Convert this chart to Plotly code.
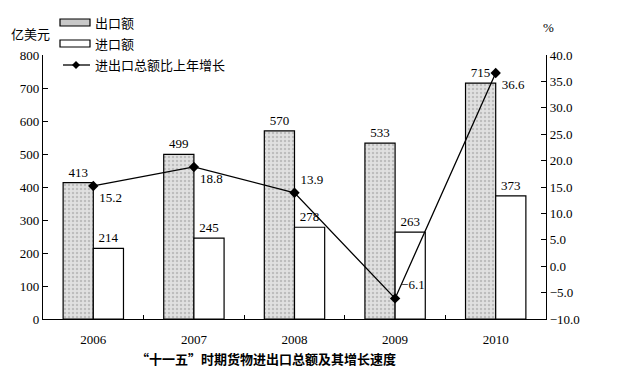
import plotly.graph_objects as go

years = ["2006", "2007", "2008", "2009", "2010"]
exports = [413, 499, 570, 533, 715]
imports = [214, 245, 278, 263, 373]
growth = [15.2, 18.8, 13.9, -6.1, 36.6]
growth_pos = ["bottom right", "bottom right", "top right", "top right", "bottom right"]
legend_names = ["出口额", "进口额", "进出口总额比上年增长"]

serif = "Liberation Serif"
cjk = "Noto Sans CJK SC"

L, R, T, B = 43, 546, 55, 319  # plot area in pixels
W, H = 632, 374


def px(x, y):
    return (x - L) / (R - L), (B - y) / (B - T)


export_marker = dict(color="#d9d9d9", line=dict(color="black", width=1.2),
                     pattern=dict(shape=".", fgcolor="#9a9a9a", bgcolor="#e0e0e0", size=4, solidity=0.3))

fig = go.Figure()
fig.add_trace(go.Bar(
    x=years, y=exports, name=legend_names[0], marker=export_marker,
    text=[str(v) for v in exports], textposition="outside",
    textfont=dict(family=serif, size=13, color="black"), cliponaxis=False,
))
fig.add_trace(go.Bar(
    x=years, y=imports, name=legend_names[1],
    marker=dict(color="white", line=dict(color="black", width=1.2)),
    text=[str(v) for v in imports], textposition="outside",
    textfont=dict(family=serif, size=13, color="black"), cliponaxis=False,
))
fig.add_trace(go.Scatter(
    x=years, y=growth, name=legend_names[2], yaxis="y2",
    mode="lines+markers+text",
    line=dict(color="black", width=1.3),
    marker=dict(symbol="diamond", size=8, color="black"),
    text=[f"{v:.1f}".replace("-", "−") for v in growth], textposition=growth_pos,
    textfont=dict(family=serif, size=13, color="black"), cliponaxis=False,
))

shapes = []
annotations = []

# manual legend
x0, y0 = px(60, 19)
x1, y1 = px(90, 26)
shapes.append(dict(type="rect", xref="paper", yref="paper", x0=x0, x1=x1, y0=y1, y1=y0,
                   fillcolor="#c8c8c8", line=dict(color="black", width=1.2)))
x0, y0 = px(60, 40)
x1, y1 = px(90, 47)
shapes.append(dict(type="rect", xref="paper", yref="paper", x0=x0, x1=x1, y0=y1, y1=y0,
                   fillcolor="white", line=dict(color="black", width=1.2)))
x0, y0 = px(63, 65)
x1, _ = px(90, 65)
shapes.append(dict(type="line", xref="paper", yref="paper", x0=x0, x1=x1, y0=y0, y1=y0,
                   line=dict(color="black", width=1.3)))
cx, cy = px(76, 65)
dx = 4 / (R - L)
dy = 4 / (B - T)
shapes.append(dict(type="path", xref="paper", yref="paper",
                   path=f"M {cx-dx},{cy} L {cx},{cy+dy} L {cx+dx},{cy} L {cx},{cy-dy} Z",
                   fillcolor="black", line=dict(color="black", width=0)))

for name, ty in zip(legend_names, [22, 43, 65]):
    xa, ya = px(93, ty)
    annotations.append(dict(text=name, x=xa, y=ya, xref="paper", yref="paper", xanchor="left",
                            yanchor="middle", showarrow=False, font=dict(family=cjk, size=13, color="black")))

xa, ya = px(30, 33)
annotations.append(dict(text="亿美元", x=xa, y=ya, xref="paper", yref="paper", showarrow=False,
                        xanchor="center", yanchor="middle",
                        font=dict(family=cjk, size=13, color="black")))
xa, ya = px(548, 28)
annotations.append(dict(text="%", x=xa, y=ya, xref="paper", yref="paper", showarrow=False,
                        xanchor="center", yanchor="middle",
                        font=dict(family=serif, size=13, color="black")))
xa, ya = px(266, 358)
annotations.append(dict(text="<b>“十一五”时期货物进出口总额及其增长速度</b>", x=xa, y=ya, xref="paper",
                        yref="paper", showarrow=False, xanchor="center", yanchor="middle",
                        font=dict(family=cjk, size=13, color="black")))

fig.update_layout(
    width=W, height=H,
    margin=dict(l=L, r=W - R, t=T, b=H - B, autoexpand=False),
    paper_bgcolor="white", plot_bgcolor="white",
    barmode="group", bargap=0.4, bargroupgap=0,
    font=dict(family=serif, size=13, color="black"),
    showlegend=False,
    xaxis=dict(showline=True, linecolor="black", linewidth=1.2,
               ticks="inside", tickson="boundaries", ticklen=4, tickcolor="black",
               ticklabelstandoff=8,
               tickfont=dict(family=serif, size=13)),
    yaxis=dict(range=[0, 800], dtick=100, showgrid=False, zeroline=False,
               showline=True, linecolor="black", linewidth=1.2,
               ticks="inside", ticklen=5, tickcolor="black",
               tickfont=dict(family=serif, size=13)),
    yaxis2=dict(range=[-10, 40], dtick=5, overlaying="y", side="right",
                showgrid=False, zeroline=False, showline=True, linecolor="black", linewidth=1.2,
                ticks="inside", ticklen=5, tickcolor="black", tickformat=".1f",
                tickfont=dict(family=serif, size=13)),
    shapes=shapes,
    annotations=annotations,
)

fig.write_html("out.html", config={"displayModeBar": False},
               post_script="document.body.style.margin='0';")
